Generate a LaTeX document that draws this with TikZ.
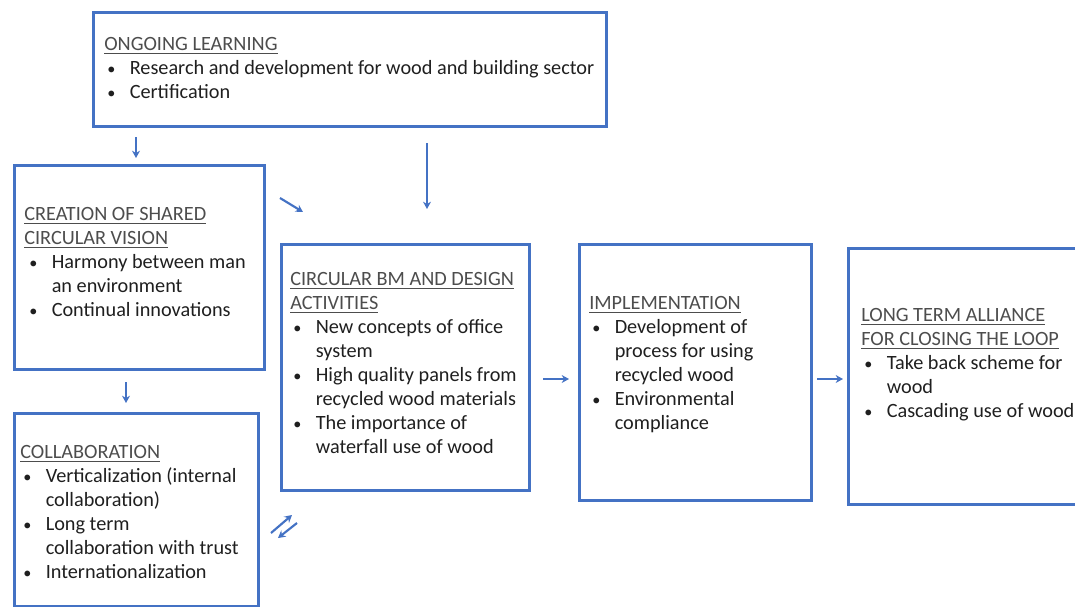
\documentclass[tikz,border=0pt]{standalone}
\usepackage{fontspec}
\setmainfont{Carlito}
\usetikzlibrary{arrows.meta}
\definecolor{boxblue}{HTML}{4472C4}
\definecolor{bodytext}{HTML}{1F1F1F}
\definecolor{titletext}{HTML}{4D4D4D}
\newlength{\pxu}
\setlength{\pxu}{0.75pt}
% small round bullet, followed by the item text
\newcommand{\bul}[1]{\hspace*{3\pxu}\makebox[22.5\pxu][l]{\raisebox{0.6\pxu}{\scalebox{0.8}{•}}}#1}
\newcommand{\cont}[1]{\hspace*{25.5\pxu}#1}
\newcommand{\ttl}[1]{{\color{titletext}\underline{#1}}}
\tikzset{
  box/.style={draw=boxblue, line width=2.4pt, anchor=north west, inner sep=0pt},
  txt/.style={anchor=north west, inner sep=0pt, align=left, text=bodytext,
    font=\fontsize{15.2pt}{18pt}\selectfont},
  arr/.style={draw=boxblue, line width=1.6pt, -{Stealth[length=5.5pt,width=6pt]}}
}
\begin{document}
\begin{tikzpicture}[x=0.75pt,y=-0.75pt]
\useasboundingbox (0,0) rectangle (1075,607);
\clip (0,0) rectangle (1075,607);
% frames
\node[box, minimum width={513*0.75pt}, minimum height={114*0.75pt}] (learn) at (92,11) {};
\node[box, minimum width={250*0.75pt}, minimum height={204*0.75pt}] (vision) at (13,164) {};
\node[box, minimum width={244*0.75pt}, minimum height={193*0.75pt}] (collab) at (13,412) {};
\node[box, minimum width={248*0.75pt}, minimum height={246*0.75pt}] (design) at (280,243) {};
\node[box, minimum width={232*0.75pt}, minimum height={256*0.75pt}] (impl) at (578,243) {};
\node[box, minimum width={240*0.75pt}, minimum height={256*0.75pt}] (alliance) at (847,247) {};
% texts
\node[txt] (learnT) at (104,37.5) {\ttl{ONGOING LEARNING}\\
  \bul{Research and development for wood and building sector}\\
  \bul{Certification}};
\node[txt] (visionT) at (24,207.5) {\ttl{CREATION OF SHARED}\\
  \ttl{CIRCULAR VISION}\\
  \hspace*{2\pxu}\bul{Harmony between man}\\
  \hspace*{2\pxu}\cont{an environment}\\
  \hspace*{2\pxu}\bul{Continual innovations}};
\node[txt] (collabT) at (20,445.5) {\ttl{COLLABORATION}\\
  \bul{Verticalization (internal}\\
  \cont{collaboration)}\\
  \bul{Long term}\\
  \cont{collaboration with trust}\\
  \bul{Internationalization}};
\node[txt] (designT) at (290,272.5) {\ttl{CIRCULAR BM AND DESIGN}\\
  \ttl{ACTIVITIES}\\
  \bul{New concepts of office}\\
  \cont{system}\\
  \bul{High quality panels from}\\
  \cont{recycled wood materials}\\
  \bul{The importance of}\\
  \cont{waterfall use of wood}};
\node[txt] (implT) at (589,296.5) {\ttl{IMPLEMENTATION}\\
  \bul{Development of}\\
  \cont{process for using}\\
  \cont{recycled wood}\\
  \bul{Environmental}\\
  \cont{compliance}};
\node[txt] (allianceT) at (861,308.5) {\ttl{LONG TERM ALLIANCE}\\
  \ttl{FOR CLOSING THE LOOP}\\
  \bul{Take back scheme for}\\
  \cont{wood}\\
  \bul{Cascading use of wood}};
% short arrow marks between the frames
\coordinate (a1s) at (136,137); \coordinate (a1e) at (136,158);
\coordinate (a2s) at (280,198); \coordinate (a2e) at (303,212);
\coordinate (a3s) at (427,143); \coordinate (a3e) at (427,209);
\coordinate (a4s) at (126,382); \coordinate (a4e) at (126,403);
\coordinate (a5s) at (543,379); \coordinate (a5e) at (569,379);
\coordinate (a6s) at (817,379); \coordinate (a6e) at (843,379);
\coordinate (a7s) at (271,533); \coordinate (a7e) at (292,515);
\coordinate (a8s) at (297,523); \coordinate (a8e) at (278,538);
\foreach \s/\e in {a1s/a1e,a2s/a2e,a3s/a3e,a4s/a4e,a5s/a5e,a6s/a6e,a7s/a7e,a8s/a8e}
  \draw[arr] (\s) -- (\e);
\end{tikzpicture}
\end{document}
